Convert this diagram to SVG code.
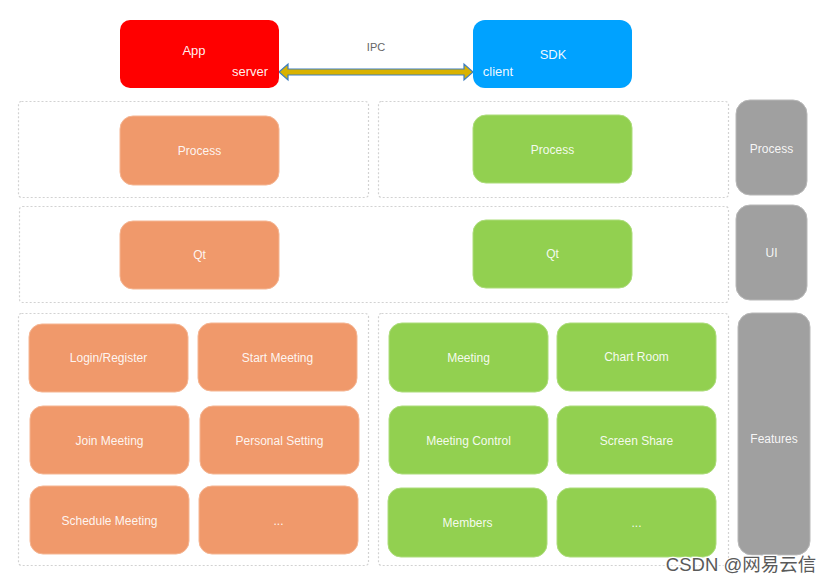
<svg xmlns="http://www.w3.org/2000/svg" width="833" height="582" viewBox="0 0 833 582">
<style>
  text { font-family: "Liberation Sans", Arial, sans-serif; text-anchor: middle; }
  .lbl { font-size: 12px; fill: #ffffff; fill-opacity: 0.92; }
  .big { font-size: 13px; fill: #ffffff; fill-opacity: 0.95; }
  .frame { fill: none; stroke: #d2d2d2; stroke-width: 1.2; stroke-dasharray: 2 2; }
  .or { fill: #F0996B; stroke: #F5B592; stroke-width: 1; }
  .gr { fill: #92D050; stroke: #ACDC7A; stroke-width: 1; }
  .gy { fill: #A0A0A0; stroke: #B8B8B8; stroke-width: 1; }
</style>
<rect width="833" height="582" fill="#ffffff"/>

<g id="frames">
  <rect class="frame" x="18.5" y="101.5" width="350" height="96" rx="3"/>
  <rect class="frame" x="378.5" y="101.5" width="350" height="96" rx="3"/>
  <rect class="frame" x="19.5" y="206.5" width="709" height="96" rx="3"/>
  <rect class="frame" x="18.5" y="313.5" width="350" height="252" rx="3"/>
  <rect class="frame" x="378.5" y="313.5" width="350" height="252" rx="3"/>
</g>

<g id="connectors">
  <polygon points="279,72 288,64 288,69 464,69 464,64 473,72 464,80 464,75 288,75 288,80" fill="#D9B200" stroke="#3F7FBF" stroke-width="1.2" stroke-linejoin="miter"/>
  <text x="376" y="51" style="font-size:11px; fill:#666666;">IPC</text>
</g>

<g id="app">
  <rect x="120" y="20" width="159" height="68" rx="10" fill="#FF0000"/>
  <text class="big" x="194" y="55">App</text>
  <text class="big" x="250" y="76">server</text>
</g>
<g id="sdk">
  <rect x="473" y="20" width="159" height="68" rx="12" fill="#00A2FF"/>
  <text class="big" x="553" y="59">SDK</text>
  <text class="big" x="498" y="76">client</text>
</g>

<g id="app-process"><rect class="or" x="120" y="116" width="159" height="69" rx="13"/><text class="lbl" x="199.5" y="155">Process</text></g>
<g id="sdk-process"><rect class="gr" x="473" y="115" width="159" height="68" rx="13"/><text class="lbl" x="552.5" y="154">Process</text></g>
<g id="layer-process"><rect class="gy" x="736" y="100" width="71" height="95" rx="14"/><text class="lbl" x="771.5" y="153">Process</text></g>

<g id="app-qt"><rect class="or" x="120" y="221" width="159" height="68" rx="13"/><text class="lbl" x="199.5" y="259">Qt</text></g>
<g id="sdk-qt"><rect class="gr" x="473" y="220" width="159" height="68" rx="13"/><text class="lbl" x="552.5" y="258">Qt</text></g>
<g id="layer-ui"><rect class="gy" x="736" y="205" width="71" height="95" rx="14"/><text class="lbl" x="771.5" y="257">UI</text></g>

<g id="login"><rect class="or" x="29" y="324" width="159" height="68" rx="13"/><text class="lbl" x="108.5" y="362">Login/Register</text></g>
<g id="start"><rect class="or" x="198" y="323" width="159" height="68" rx="13"/><text class="lbl" x="277.5" y="362">Start Meeting</text></g>
<g id="join"><rect class="or" x="30" y="406" width="159" height="68" rx="13"/><text class="lbl" x="109.5" y="445">Join Meeting</text></g>
<g id="personal"><rect class="or" x="200" y="406" width="159" height="68" rx="13"/><text class="lbl" x="279.5" y="445">Personal Setting</text></g>
<g id="schedule"><rect class="or" x="30" y="486" width="159" height="68" rx="13"/><text class="lbl" x="109.5" y="525">Schedule Meeting</text></g>
<g id="app-more"><rect class="or" x="199" y="486" width="159" height="68" rx="13"/><text class="lbl" x="278.5" y="525">...</text></g>

<g id="meeting"><rect class="gr" x="389" y="323" width="159" height="69" rx="13"/><text class="lbl" x="468.5" y="362">Meeting</text></g>
<g id="chart"><rect class="gr" x="557" y="323" width="159" height="68" rx="13"/><text class="lbl" x="636.5" y="361">Chart Room</text></g>
<g id="control"><rect class="gr" x="389" y="406" width="159" height="68" rx="13"/><text class="lbl" x="468.5" y="445">Meeting Control</text></g>
<g id="share"><rect class="gr" x="557" y="406" width="159" height="68" rx="13"/><text class="lbl" x="636.5" y="445">Screen Share</text></g>
<g id="members"><rect class="gr" x="388" y="488" width="159" height="69" rx="13"/><text class="lbl" x="467.5" y="527">Members</text></g>
<g id="sdk-more"><rect class="gr" x="557" y="488" width="159" height="69" rx="13"/><text class="lbl" x="636.5" y="527">...</text></g>

<g id="layer-features"><rect class="gy" x="738" y="313" width="72" height="242" rx="14"/><text class="lbl" x="774" y="443">Features</text></g>

<text x="741" y="571" style="font-family:'Liberation Sans','Noto Sans CJK SC',sans-serif; font-size:18.5px; fill:#5a5a5a; stroke:#ffffff; stroke-width:2.5; paint-order:stroke;">CSDN @网易云信</text>
</svg>
